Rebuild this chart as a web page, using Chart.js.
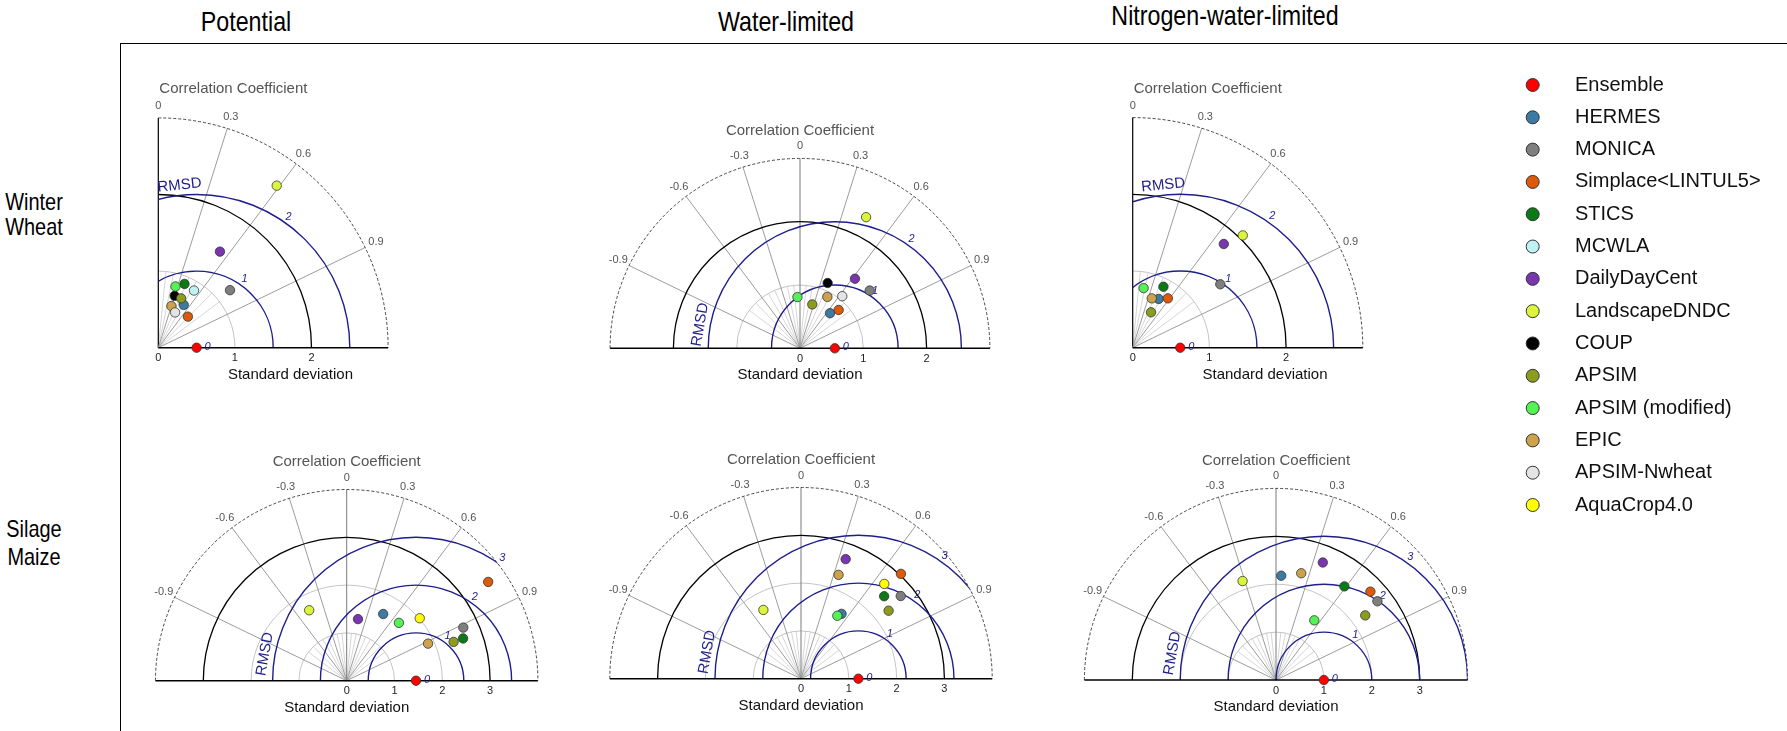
<!DOCTYPE html>
<html>
<head>
<meta charset="utf-8">
<title>Taylor diagrams</title>
<script src="https://cdn.jsdelivr.net/npm/chart.js@4.4.1/dist/chart.umd.min.js"></script>
<style>
    body { margin: 0; background: #fff; }
    #page { position: relative; width: 1787px; height: 731px; overflow: hidden; background: #fff; }
    .head { position: absolute; font-family: "Liberation Sans", Arial, sans-serif; color: #000; white-space: nowrap; line-height: 1; transform: translateX(-50%) scaleX(0.83); }
    .col { font-size: 28px; }
    .row { font-size: 24px; }
    canvas { position: absolute; }
    #hline { position: absolute; left: 120px; top: 43px; width: 1667px; height: 1px; background: #000; }
    #vline { position: absolute; left: 120px; top: 43px; width: 1px; height: 688px; background: #000; }
</style>
</head>
<body>
<div id="page">
    <div class="head col" style="left:246px; top:8px">Potential</div>
    <div class="head col" style="left:786px; top:8px">Water-limited</div>
    <div class="head col" style="left:1225px; top:2px">Nitrogen-water-limited</div>
    <div class="head row" style="left:34px; top:190px">Winter</div>
    <div class="head row" style="left:34px; top:215px">Wheat</div>
    <div class="head row" style="left:34px; top:517px">Silage</div>
    <div class="head row" style="left:34px; top:545px">Maize</div>
    <div id="hline"></div>
    <div id="vline"></div>
    <canvas id="legend" width="287" height="470" style="left:1500px; top:60px"></canvas>
</div>
<script>
Chart.defaults.font.family = "'Liberation Sans', Arial, sans-serif";

const FONT = "'Liberation Sans', Arial, sans-serif";
const NAVY = "#1e1e8c";
const AXIS_H = 36;

const models = ["Ensemble", "HERMES", "MONICA", "Simplace<LINTUL5>", "STICS", "MCWLA", "DailyDayCent",
    "LandscapeDNDC", "COUP", "APSIM", "APSIM (modified)", "EPIC", "APSIM-Nwheat", "AquaCrop4.0"];
const modelColors = ["#ff0000", "#3d7ba3", "#7f7f7f", "#dc5a0a", "#0a7a14", "#bff3f3", "#7a36b0",
    "#dcf53c", "#000000", "#8c9c1e", "#55f255", "#cca34a", "#e4e4e4", "#ffff00"];

const corrTicksQuarter = [0, 0.3, 0.6, 0.9];
const corrTicksHalf = [-0.9, -0.6, -0.3, 0, 0.3, 0.6, 0.9];
const corrMinor = [0.1, 0.2, 0.4, 0.5, 0.7, 0.8];
const wheatRmsd = [1, 2];
const maizeRmsd = [1, 2, 3];

// standard deviation / correlation per model, same order as `models` (null = not in panel)
const wheatPotentialStd = [0.50, 0.65, 1.20, 0.56, 0.90, 0.88, 1.49, 2.62, 0.71, 0.71, 0.83, 0.57, 0.51, null];
const wheatPotentialCor = [1.00, 0.51, 0.78, 0.69, 0.38, 0.53, 0.54, 0.59, 0.30, 0.42, 0.27, 0.30, 0.43, null];

const wheatWaterStd = [0.55, 0.73, 1.43, 0.86, null, null, 1.40, 2.32, 1.12, 0.72, 0.81, 0.92, 1.06, null];
const wheatWaterCor = [1.00, 0.65, 0.77, 0.71, null, null, 0.62, 0.45, 0.39, 0.27, -0.05, 0.47, 0.63, null];

const wheatNitroStd = [0.62, 0.72, 1.41, 0.79, 0.89, null, 1.80, 2.05, null, 0.52, 0.79, 0.69, null, null];
const wheatNitroCor = [1.00, 0.47, 0.81, 0.58, 0.45, null, 0.66, 0.70, null, 0.46, 0.18, 0.36, null, null];

const maizePotentialStd = [1.45, 1.59, 2.68, 3.61, 2.59, null, 1.31, 1.67, null, 2.38, 1.63, 1.87, null, 2.01];
const maizePotentialCor = [1.00, 0.48, 0.91, 0.82, 0.94, null, 0.18, -0.47, null, 0.94, 0.67, 0.91, null, 0.76];

const maizeWaterStd = [1.20, 1.60, 2.71, 3.03, 2.45, null, 2.67, 1.64, null, 2.32, 1.52, 2.31, null, 2.64];
const maizeWaterCor = [1.00, 0.53, 0.77, 0.69, 0.71, null, 0.35, -0.48, null, 0.79, 0.50, 0.34, null, 0.66];

const maizeNitroStd = [1.00, 2.18, 2.68, 2.70, 2.42, null, 2.64, 2.18, null, 2.30, 1.48, 2.29, null, null];
const maizeNitroCor = [1.00, 0.05, 0.79, 0.73, 0.59, null, 0.37, -0.32, null, 0.81, 0.54, 0.23, null, null];

// layout of each diagram: origin in page px, px per std unit
const panels = [
    { std: wheatPotentialStd, cor: wheatPotentialCor, half: false, rmax: 3, xmax: 3.45, ox: 158.3, oy: 347.7, unit: 76.6, grayArcs: [1], blackArc: 2, rmsd: wheatRmsd },
    { std: wheatWaterStd, cor: wheatWaterCor, half: true, rmax: 3, xmax: 3, ox: 800, oy: 348.3, unit: 63.3, grayArcs: [1], blackArc: 2, rmsd: wheatRmsd },
    { std: wheatNitroStd, cor: wheatNitroCor, half: false, rmax: 3, xmax: 3.45, ox: 1132.7, oy: 347.7, unit: 76.7, grayArcs: [1], blackArc: 2, rmsd: wheatRmsd },
    { std: maizePotentialStd, cor: maizePotentialCor, half: true, rmax: 4, xmax: 4, ox: 346.7, oy: 680.7, unit: 47.8, grayArcs: [1, 2], blackArc: 3, rmsd: maizeRmsd },
    { std: maizeWaterStd, cor: maizeWaterCor, half: true, rmax: 4, xmax: 4, ox: 801, oy: 678.7, unit: 47.8, grayArcs: [1, 2], blackArc: 3, rmsd: maizeRmsd },
    { std: maizeNitroStd, cor: maizeNitroCor, half: true, rmax: 4, xmax: 4, ox: 1276, oy: 680, unit: 47.9, grayArcs: [1, 2], blackArc: 3, rmsd: maizeRmsd }
];

function taylorGrid(p) {
    return {
        id: "taylorGrid",
        beforeDatasetsDraw(chart) {
            const ctx = chart.ctx;
            const xs = chart.scales.x, ys = chart.scales.y;
            const ox = xs.getPixelForValue(0), oy = ys.getPixelForValue(0);
            const u = xs.getPixelForValue(1) - ox;
            const R = p.rmax * u;
            const a0 = p.half ? -Math.PI : -Math.PI / 2;
            const ticks = p.half ? corrTicksHalf : corrTicksQuarter;
            const minor = p.half ? corrMinor.concat(corrMinor.map(c => -c)) : corrMinor;
            const rx = xs.getPixelForValue(p.std[0]);
            const dir = c => [c, Math.sqrt(1 - c * c)];

            ctx.save();
            ctx.lineWidth = 1;

            // short correlation rays inside the first std circle
            ctx.strokeStyle = "#d6d6d6";
            minor.forEach(c => {
                const [dx, dy] = dir(c), r = p.grayArcs[0] * u;
                ctx.beginPath();
                ctx.moveTo(ox, oy);
                ctx.lineTo(ox + dx * r, oy - dy * r);
                ctx.stroke();
            });

            ctx.strokeStyle = "#c4c4c4";
            p.grayArcs.forEach(r => {
                ctx.beginPath();
                ctx.arc(ox, oy, r * u, a0, 0);
                ctx.stroke();
            });

            ticks.forEach(c => {
                const [dx, dy] = dir(c);
                ctx.strokeStyle = c === 0 ? (p.half ? "#7a7a7a" : "#000") : "#9c9c9c";
                ctx.lineWidth = c === 0 && !p.half ? 1.2 : 1;
                ctx.beginPath();
                ctx.moveTo(ox, oy);
                ctx.lineTo(ox + dx * R, oy - dy * R);
                ctx.stroke();
            });

            ctx.strokeStyle = "#000";
            ctx.lineWidth = 1.3;
            ctx.beginPath();
            ctx.arc(ox, oy, p.blackArc * u, a0, 0);
            ctx.stroke();

            ctx.strokeStyle = "#333";
            ctx.lineWidth = 0.9;
            ctx.setLineDash([3, 2]);
            ctx.beginPath();
            ctx.arc(ox, oy, R, a0, 0);
            ctx.stroke();
            ctx.setLineDash([]);

            // RMSD circles around the reference, clipped to the diagram
            ctx.save();
            ctx.beginPath();
            ctx.moveTo(ox, oy);
            ctx.arc(ox, oy, R, a0, 0);
            ctx.closePath();
            ctx.clip();
            ctx.strokeStyle = NAVY;
            ctx.lineWidth = 1.4;
            p.rmsd.forEach(r => {
                ctx.beginPath();
                ctx.arc(rx, oy, r * u, -Math.PI, 0);
                ctx.stroke();
            });
            ctx.restore();

            ctx.strokeStyle = "#000";
            ctx.lineWidth = 1.4;
            ctx.beginPath();
            ctx.moveTo(p.half ? ox - R : ox, oy);
            ctx.lineTo(ox + R, oy);
            ctx.stroke();

            // labels
            ctx.textAlign = "center";
            ctx.textBaseline = "middle";
            ctx.fillStyle = "#555";
            ctx.font = "11px " + FONT;
            ticks.forEach(c => {
                const [dx, dy] = dir(c);
                ctx.fillText(String(c), ox + dx * (R + 12), oy - dy * (R + 12));
            });

            ctx.font = "15px " + FONT;
            if (p.half) {
                ctx.fillText("Correlation Coefficient", ox, oy - R - 28);
            } else {
                ctx.textAlign = "left";
                ctx.fillText("Correlation Coefficient", ox + 1, oy - R - 29);
                ctx.textAlign = "center";
            }

            ctx.fillStyle = NAVY;
            ctx.font = "italic 11px " + FONT;
            ctx.fillText("0", rx + 11, oy - 1);
            const la = 55 * Math.PI / 180;
            p.rmsd.forEach(r => {
                const d = r * u + 7;
                ctx.fillText(String(r), rx + d * Math.cos(la), oy - d * Math.sin(la));
            });

            const th = (p.half ? 170 : 96) * Math.PI / 180;
            const d = p.rmsd[p.rmsd.length - 1] * u + 10;
            ctx.translate(rx + d * Math.cos(th), oy - d * Math.sin(th));
            ctx.rotate(Math.atan2(Math.cos(th), Math.sin(th)));
            ctx.font = "15px " + FONT;
            ctx.fillText("RMSD", 0, 0);
            ctx.restore();
        }
    };
}

const page = document.getElementById("page");

function drawPanel(p) {
    const xmin = p.half ? -p.rmax : 0;
    const chartW = (p.xmax - xmin) * p.unit;
    const chartH = p.rmax * p.unit;
    const left0 = p.ox + xmin * p.unit;
    const top0 = p.oy - chartH;
    const cl = Math.round(left0 - 70), ct = Math.round(top0 - 70);
    const cw = Math.round(left0 + chartW + 60) - cl;
    const ch = Math.round(p.oy + 45) - ct;

    const canvas = document.createElement("canvas");
    canvas.width = cw;
    canvas.height = ch;
    canvas.style.left = cl + "px";
    canvas.style.top = ct + "px";
    page.appendChild(canvas);

    new Chart(canvas, {
        type: "scatter",
        data: {
            datasets: models.map((m, i) => ({
                label: m,
                data: p.std[i] == null ? [] : [{
                    x: p.std[i] * p.cor[i],
                    y: p.std[i] * Math.sqrt(1 - p.cor[i] * p.cor[i])
                }],
                backgroundColor: modelColors[i],
                borderColor: "#333",
                borderWidth: 0.8,
                pointRadius: 4.7,
                clip: false,
                order: models.length - i
            }))
        },
        options: {
            responsive: false,
            animation: false,
            events: [],
            layout: {
                padding: {
                    left: left0 - cl,
                    right: cl + cw - (left0 + chartW),
                    top: top0 - ct,
                    bottom: ct + ch - p.oy - AXIS_H
                }
            },
            plugins: {
                legend: { display: false },
                tooltip: { enabled: false }
            },
            scales: {
                x: {
                    type: "linear",
                    min: xmin,
                    max: p.xmax,
                    ticks: {
                        stepSize: 1,
                        autoSkip: false,
                        maxRotation: 0,
                        padding: 4,
                        color: "#222",
                        font: { size: 11 },
                        callback: v => (v >= 0 && v < p.rmax ? String(v) : "")
                    },
                    grid: { display: false, drawTicks: false },
                    border: { display: false },
                    title: {
                        display: true,
                        text: "Standard deviation",
                        color: "#111",
                        font: { size: 15 },
                        padding: 0
                    },
                    afterFit: s => { s.height = AXIS_H; }
                },
                y: { type: "linear", display: false, min: 0, max: p.rmax }
            }
        },
        plugins: [taylorGrid(p)]
    });
}

panels.forEach(drawPanel);

// legend: one marker per model, names on a category axis
new Chart(document.getElementById("legend"), {
    type: "scatter",
    data: {
        datasets: models.map((m, i) => ({
            label: m,
            data: [{ x: 0, y: m }],
            backgroundColor: modelColors[i],
            borderColor: "#333",
            borderWidth: 1,
            pointRadius: 6.5,
            clip: false
        }))
    },
    options: {
        responsive: false,
        animation: false,
        events: [],
        layout: { padding: { left: 0, right: 0, top: 25, bottom: 25 } },
        plugins: {
            legend: { display: false },
            tooltip: { enabled: false }
        },
        scales: {
            x: { type: "linear", display: false, min: -28, max: 47 },
            y: {
                type: "category",
                labels: models,
                position: "right",
                offset: false,
                grid: { display: false, drawTicks: false, tickLength: 0 },
                border: { display: false },
                ticks: { padding: 0, autoSkip: false, color: "#111", font: { size: 20 } },
                afterFit: s => { s.width = 212; }
            }
        }
    }
});
</script>
</body>
</html>
